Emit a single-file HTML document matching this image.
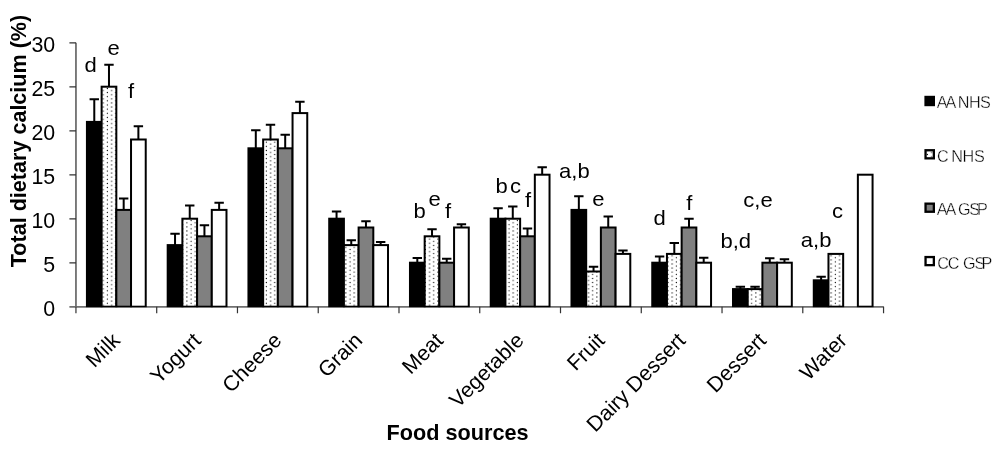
<!DOCTYPE html>
<html lang="en">
<head>
<meta charset="utf-8">
<title>Total dietary calcium by food source</title>
<style>
html,body{margin:0;padding:0;background:#fff;}
body{width:1000px;height:451px;overflow:hidden;}
svg{display:block;font-family:"Liberation Sans",Arial,sans-serif;}
.tick{font-size:21.33px;fill:#000;}
.cat{font-size:21.33px;fill:#000;}
.ttl{font-size:21.33px;font-weight:bold;fill:#000;}
.ttly{font-size:21.57px;font-weight:bold;fill:#000;}
.ann{font-size:20.8px;fill:#000;}
.leg{font-size:16.2px;fill:#000;stroke:#fff;stroke-width:0.35px;}
.bar{stroke:#000;stroke-width:2;}
.err{stroke:#000;stroke-width:2;fill:none;}
.ax{stroke:#707070;stroke-width:1.8;fill:none;}
.tk{stroke:#333;stroke-width:1.2;fill:none;}
</style>
</head>
<body>
<svg width="1000" height="451" viewBox="0 0 1000 451">
<defs>
<pattern id="dots" x="2.0" y="2.97" width="8.367" height="4.13" patternUnits="userSpaceOnUse">
<rect x="0" y="0" width="8.367" height="4.13" fill="#fff"/>
<circle cx="0.82" cy="0.82" r="0.66" fill="#000"/>
<circle cx="5.00" cy="2.88" r="0.66" fill="#000"/>
</pattern>
<clipPath id="cb"><rect x="0" y="0" width="1000" height="307.15"/></clipPath>
</defs>
<rect x="0" y="0" width="1000" height="451" fill="#fff"/>

<path class="ax" d="M75.95 42.8V307.3M69.4 306.9H883.75"/>
<path class="tk" d="M69.4 42.8H76M69.4 86.8H76M69.4 130.8H76M69.4 174.8H76M69.4 218.8H76M69.4 262.8H76M75.95 306.7V313.2M156.71 306.7V313.2M237.47 306.7V313.2M318.23 306.7V313.2M398.99 306.7V313.2M479.75 306.7V313.2M560.51 306.7V313.2M641.27 306.7V313.2M722.03 306.7V313.2M802.79 306.7V313.2M883.55 306.7V313.2"/>
<rect class="bar" clip-path="url(#cb)" x="86.93" y="121.90" width="14.70" height="184.80" fill="#000"/>
<rect class="bar" clip-path="url(#cb)" x="101.63" y="86.70" width="14.70" height="220.00" fill="url(#dots)"/>
<rect class="bar" clip-path="url(#cb)" x="116.33" y="209.90" width="14.70" height="96.80" fill="#808080"/>
<rect class="bar" clip-path="url(#cb)" x="131.03" y="139.50" width="14.70" height="167.20" fill="#fff"/>
<path class="err" d="M94.28 121.90V99.28M89.58 99.28H98.98"/>
<path class="err" d="M108.98 86.70V64.70M104.28 64.70H113.68"/>
<path class="err" d="M123.68 209.90V198.46M118.98 198.46H128.38"/>
<path class="err" d="M138.38 139.50V126.30M133.68 126.30H143.08"/>
<rect class="bar" clip-path="url(#cb)" x="167.69" y="245.10" width="14.70" height="61.60" fill="#000"/>
<rect class="bar" clip-path="url(#cb)" x="182.39" y="218.70" width="14.70" height="88.00" fill="url(#dots)"/>
<rect class="bar" clip-path="url(#cb)" x="197.09" y="236.30" width="14.70" height="70.40" fill="#808080"/>
<rect class="bar" clip-path="url(#cb)" x="211.79" y="209.90" width="14.70" height="96.80" fill="#fff"/>
<path class="err" d="M175.04 245.10V233.66M170.34 233.66H179.74"/>
<path class="err" d="M189.74 218.70V205.50M185.04 205.50H194.44"/>
<path class="err" d="M204.44 236.30V225.30M199.74 225.30H209.14"/>
<path class="err" d="M219.14 209.90V202.86M214.44 202.86H223.84"/>
<rect class="bar" clip-path="url(#cb)" x="248.45" y="148.30" width="14.70" height="158.40" fill="#000"/>
<rect class="bar" clip-path="url(#cb)" x="263.15" y="139.50" width="14.70" height="167.20" fill="url(#dots)"/>
<rect class="bar" clip-path="url(#cb)" x="277.85" y="148.30" width="14.70" height="158.40" fill="#808080"/>
<rect class="bar" clip-path="url(#cb)" x="292.55" y="113.10" width="14.70" height="193.60" fill="#fff"/>
<path class="err" d="M255.80 148.30V130.26M251.10 130.26H260.50"/>
<path class="err" d="M270.50 139.50V124.72M265.80 124.72H275.20"/>
<path class="err" d="M285.20 148.30V134.66M280.50 134.66H289.90"/>
<path class="err" d="M299.90 113.10V101.66M295.20 101.66H304.60"/>
<rect class="bar" clip-path="url(#cb)" x="329.21" y="218.70" width="14.70" height="88.00" fill="#000"/>
<rect class="bar" clip-path="url(#cb)" x="343.91" y="245.10" width="14.70" height="61.60" fill="url(#dots)"/>
<rect class="bar" clip-path="url(#cb)" x="358.61" y="227.50" width="14.70" height="79.20" fill="#808080"/>
<rect class="bar" clip-path="url(#cb)" x="373.31" y="245.10" width="14.70" height="61.60" fill="#fff"/>
<path class="err" d="M336.56 218.70V211.40M331.86 211.40H341.26"/>
<path class="err" d="M351.26 245.10V240.26M346.56 240.26H355.96"/>
<path class="err" d="M365.96 227.50V221.34M361.26 221.34H370.66"/>
<path class="err" d="M380.66 245.10V242.02M375.96 242.02H385.36"/>
<rect class="bar" clip-path="url(#cb)" x="409.97" y="262.70" width="14.70" height="44.00" fill="#000"/>
<rect class="bar" clip-path="url(#cb)" x="424.67" y="236.30" width="14.70" height="70.40" fill="url(#dots)"/>
<rect class="bar" clip-path="url(#cb)" x="439.37" y="262.70" width="14.70" height="44.00" fill="#808080"/>
<rect class="bar" clip-path="url(#cb)" x="454.07" y="227.50" width="14.70" height="79.20" fill="#fff"/>
<path class="err" d="M417.32 262.70V258.04M412.62 258.04H422.02"/>
<path class="err" d="M432.02 236.30V229.26M427.32 229.26H436.72"/>
<path class="err" d="M446.72 262.70V258.83M442.02 258.83H451.42"/>
<path class="err" d="M461.42 227.50V224.24M456.72 224.24H466.12"/>
<rect class="bar" clip-path="url(#cb)" x="490.73" y="218.70" width="14.70" height="88.00" fill="#000"/>
<rect class="bar" clip-path="url(#cb)" x="505.43" y="218.70" width="14.70" height="88.00" fill="url(#dots)"/>
<rect class="bar" clip-path="url(#cb)" x="520.13" y="236.30" width="14.70" height="70.40" fill="#808080"/>
<rect class="bar" clip-path="url(#cb)" x="534.83" y="174.70" width="14.70" height="132.00" fill="#fff"/>
<path class="err" d="M498.08 218.70V208.14M493.38 208.14H502.78"/>
<path class="err" d="M512.78 218.70V206.38M508.08 206.38H517.48"/>
<path class="err" d="M527.48 236.30V228.38M522.78 228.38H532.18"/>
<path class="err" d="M542.18 174.70V167.22M537.48 167.22H546.88"/>
<rect class="bar" clip-path="url(#cb)" x="571.49" y="209.90" width="14.70" height="96.80" fill="#000"/>
<rect class="bar" clip-path="url(#cb)" x="586.19" y="271.50" width="14.70" height="35.20" fill="url(#dots)"/>
<rect class="bar" clip-path="url(#cb)" x="600.89" y="227.50" width="14.70" height="79.20" fill="#808080"/>
<rect class="bar" clip-path="url(#cb)" x="615.59" y="253.90" width="14.70" height="52.80" fill="#fff"/>
<path class="err" d="M578.84 209.90V196.17M574.14 196.17H583.54"/>
<path class="err" d="M593.54 271.50V266.66M588.84 266.66H598.24"/>
<path class="err" d="M608.24 227.50V216.50M603.54 216.50H612.94"/>
<path class="err" d="M622.94 253.90V250.38M618.24 250.38H627.64"/>
<rect class="bar" clip-path="url(#cb)" x="652.25" y="262.70" width="14.70" height="44.00" fill="#000"/>
<rect class="bar" clip-path="url(#cb)" x="666.95" y="253.90" width="14.70" height="52.80" fill="url(#dots)"/>
<rect class="bar" clip-path="url(#cb)" x="681.65" y="227.50" width="14.70" height="79.20" fill="#808080"/>
<rect class="bar" clip-path="url(#cb)" x="696.35" y="262.70" width="14.70" height="44.00" fill="#fff"/>
<path class="err" d="M659.60 262.70V256.54M654.90 256.54H664.30"/>
<path class="err" d="M674.30 253.90V242.90M669.60 242.90H679.00"/>
<path class="err" d="M689.00 227.50V218.70M684.30 218.70H693.70"/>
<path class="err" d="M703.70 262.70V257.86M699.00 257.86H708.40"/>
<rect class="bar" clip-path="url(#cb)" x="733.01" y="289.10" width="14.70" height="17.60" fill="#000"/>
<rect class="bar" clip-path="url(#cb)" x="747.71" y="289.10" width="14.70" height="17.60" fill="url(#dots)"/>
<rect class="bar" clip-path="url(#cb)" x="762.41" y="262.70" width="14.70" height="44.00" fill="#808080"/>
<rect class="bar" clip-path="url(#cb)" x="777.11" y="262.70" width="14.70" height="44.00" fill="#fff"/>
<path class="err" d="M740.36 289.10V286.72M735.66 286.72H745.06"/>
<path class="err" d="M755.06 289.10V286.72M750.36 286.72H759.76"/>
<path class="err" d="M769.76 262.70V258.30M765.06 258.30H774.46"/>
<path class="err" d="M784.46 262.70V259.36M779.76 259.36H789.16"/>
<rect class="bar" clip-path="url(#cb)" x="813.77" y="280.30" width="14.70" height="26.40" fill="#000"/>
<rect class="bar" clip-path="url(#cb)" x="828.47" y="253.90" width="14.70" height="52.80" fill="url(#dots)"/>
<rect class="bar" clip-path="url(#cb)" x="857.87" y="174.70" width="14.70" height="132.00" fill="#fff"/>
<path class="err" d="M821.12 280.30V276.78M816.42 276.78H825.82"/>
<text class="tick" x="55.2" y="51.8" text-anchor="end">30</text>
<text class="tick" x="55.2" y="95.8" text-anchor="end">25</text>
<text class="tick" x="55.2" y="139.8" text-anchor="end">20</text>
<text class="tick" x="55.2" y="183.8" text-anchor="end">15</text>
<text class="tick" x="55.2" y="227.8" text-anchor="end">10</text>
<text class="tick" x="55.2" y="271.8" text-anchor="end">5</text>
<text class="tick" x="55.2" y="315.8" text-anchor="end">0</text>
<text class="cat" text-anchor="end" transform="translate(121.3 341.7) rotate(-45)">Milk</text>
<text class="cat" text-anchor="end" transform="translate(202.1 341.7) rotate(-45)">Yogurt</text>
<text class="cat" text-anchor="end" transform="translate(282.9 341.7) rotate(-45)">Cheese</text>
<text class="cat" text-anchor="end" transform="translate(363.6 341.7) rotate(-45)">Grain</text>
<text class="cat" text-anchor="end" transform="translate(444.4 341.7) rotate(-45)">Meat</text>
<text class="cat" text-anchor="end" transform="translate(525.1 341.7) rotate(-45)">Vegetable</text>
<text class="cat" text-anchor="end" transform="translate(605.9 341.7) rotate(-45)">Fruit</text>
<text class="cat" text-anchor="end" transform="translate(686.7 341.7) rotate(-45)">Dairy Dessert</text>
<text class="cat" text-anchor="end" transform="translate(767.4 341.7) rotate(-45)">Dessert</text>
<text class="cat" text-anchor="end" transform="translate(848.2 341.7) rotate(-45)">Water</text>
<text class="ttl" text-anchor="middle" transform="translate(457.6 440) scale(1.016 1)">Food sources</text>
<text class="ttly" text-anchor="middle" transform="translate(26 141) rotate(-90)">Total dietary calcium (%)</text>
<text class="ann" text-anchor="middle" transform="translate(90.7 72.0) scale(1.06 1)">d</text>
<text class="ann" text-anchor="middle" transform="translate(113.5 55.1) scale(1.06 1)">e</text>
<text class="ann" text-anchor="middle" transform="translate(131.1 97.9) scale(1.06 1)">f</text>
<text class="ann" text-anchor="middle" transform="translate(419.5 217.8) scale(1.06 1)">b</text>
<text class="ann" text-anchor="middle" transform="translate(434.6 206.4) scale(1.06 1)">e</text>
<text class="ann" text-anchor="middle" transform="translate(448.1 217.6) scale(1.06 1)">f</text>
<text class="ann" text-anchor="middle" transform="translate(501.6 192.9) scale(1.06 1)">b</text>
<text class="ann" text-anchor="middle" transform="translate(515.5 192.9) scale(1.06 1)">c</text>
<text class="ann" text-anchor="middle" transform="translate(528.1 206.5) scale(1.06 1)">f</text>
<text class="ann" text-anchor="middle" transform="translate(574.4 177.9) scale(1.06 1)">a,b</text>
<text class="ann" text-anchor="middle" transform="translate(598.3 206.4) scale(1.06 1)">e</text>
<text class="ann" text-anchor="middle" transform="translate(659.6 224.8) scale(1.06 1)">d</text>
<text class="ann" text-anchor="middle" transform="translate(689.4 209.5) scale(1.06 1)">f</text>
<text class="ann" text-anchor="middle" transform="translate(758.0 206.7) scale(1.06 1)">c,e</text>
<text class="ann" text-anchor="middle" transform="translate(735.7 247.5) scale(1.06 1)">b,d</text>
<text class="ann" text-anchor="middle" transform="translate(837.5 217.7) scale(1.06 1)">c</text>
<text class="ann" text-anchor="middle" transform="translate(816.1 247.4) scale(1.06 1)">a,b</text>
<rect x="925.55" y="96.95" width="8.3" height="8.1" fill="#000" stroke="#000" stroke-width="2.3"/>
<text class="leg" x="936.80 945.60 954.50 957.75 968.90 980.05" y="108.4">AA NHS</text>
<rect x="925.55" y="150.25" width="8.3" height="8.1" fill="url(#dots)" stroke="#000" stroke-width="2.3"/>
<text class="leg" x="937.00 947.50 951.20 962.55 974.05" y="162.2">C NHS</text>
<rect x="925.55" y="203.65" width="8.3" height="8.1" fill="#808080" stroke="#000" stroke-width="2.3"/>
<text class="leg" x="936.80 945.60 954.50 958.10 969.25 977.10" y="214.8">AA GSP</text>
<rect x="925.55" y="257.05" width="8.3" height="8.1" fill="#fff" stroke="#000" stroke-width="2.3"/>
<text class="leg" x="937.25 947.65 958.50 963.10 974.45 981.50" y="268.8">CC GSP</text>
</svg>
</body>
</html>
